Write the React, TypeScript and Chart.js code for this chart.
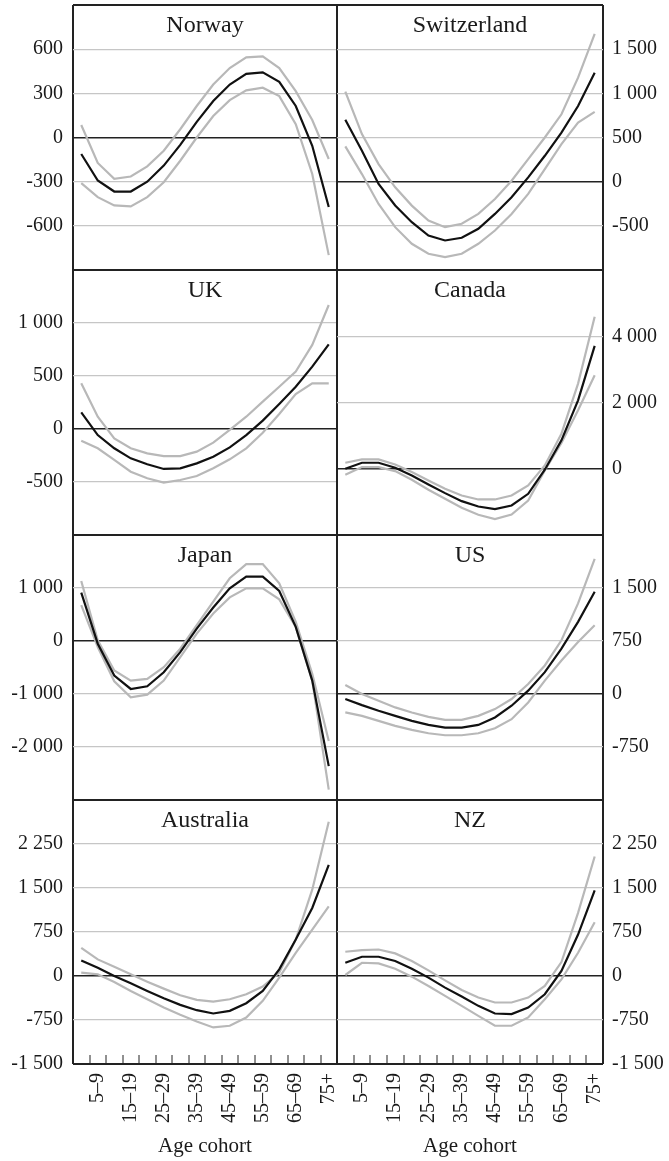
import React, { useEffect, useRef } from "react";
import { Chart, registerables } from "chart.js";

Chart.register(...registerables);

const categories = [
  "0–4", "5–9", "10–14", "15–19", "20–24", "25–29", "30–34", "35–39",
  "40–44", "45–49", "50–54", "55–59", "60–64", "65–69", "70–74", "75+",
];

const countries = ["Norway", "Switzerland", "UK", "Canada", "Japan", "US", "Australia", "NZ"];

const norwayMid = [-112, -292, -367, -367, -300, -191, -50, 106, 248, 360, 432, 443, 378, 214, -56, -472];
const norwayHigh = [85, -173, -281, -265, -196, -90, 56, 214, 360, 472, 544, 551, 472, 315, 119, -146];
const norwayLow = [-310, -405, -461, -468, -405, -304, -158, 0, 146, 254, 320, 338, 281, 90, -248, -799];

const swissMid = [700, 350, -26, -270, -459, -610, -666, -635, -534, -365, -177, 49, 293, 556, 857, 1233];
const swissHigh = [1019, 538, 199, -64, -271, -440, -515, -477, -365, -196, 11, 256, 500, 763, 1177, 1673];
const swissLow = [399, 86, -252, -515, -703, -816, -853, -816, -703, -553, -365, -139, 143, 425, 669, 790];

const ukMid = [157, -57, -182, -277, -333, -377, -371, -324, -261, -173, -57, 79, 236, 399, 588, 799];
const ukHigh = [431, 116, -88, -182, -230, -255, -255, -214, -129, -9, 116, 258, 399, 541, 793, 1170];
const ukLow = [-110, -182, -292, -403, -465, -506, -481, -443, -371, -286, -182, -35, 142, 330, 431, 431];

const canadaMid = [0, 181, 181, 30, -202, -474, -736, -978, -1139, -1220, -1109, -756, -30, 857, 2066, 3709];
const canadaHigh = [181, 282, 282, 131, -101, -353, -605, -806, -927, -927, -806, -504, 101, 1058, 2570, 4586];
const canadaLow = [-181, 50, 50, -71, -333, -635, -907, -1179, -1391, -1522, -1381, -958, -50, 776, 1764, 2822];

const japanMid = [912, -51, -652, -905, -855, -589, -209, 234, 633, 994, 1215, 1215, 943, 266, -747, -2361];
const japanHigh = [1133, 13, -557, -747, -715, -494, -146, 298, 741, 1184, 1450, 1450, 1089, 361, -620, -1886];
const japanLow = [677, -114, -760, -1063, -1013, -747, -304, 139, 519, 823, 994, 994, 785, 266, -747, -2804];

const usMid = [-71, -157, -237, -309, -380, -437, -475, -475, -437, -332, -166, 47, 309, 641, 1021, 1448];
const usHigh = [128, 0, -95, -190, -261, -323, -366, -366, -309, -214, -71, 142, 404, 760, 1282, 1913];
const usLow = [-261, -309, -380, -451, -508, -555, -584, -584, -555, -484, -356, -119, 190, 475, 736, 973];

const ausMid = [266, 141, 0, -124, -255, -379, -492, -583, -639, -594, -464, -255, 113, 622, 1159, 1895];
const ausHigh = [481, 283, 158, 28, -96, -215, -328, -407, -436, -396, -311, -181, 57, 622, 1471, 2630];
const ausLow = [57, 28, -102, -255, -396, -537, -662, -775, -877, -848, -707, -424, -28, 396, 792, 1188];

const nzMid = [226, 328, 328, 255, 124, -28, -198, -351, -509, -639, -650, -537, -311, 85, 707, 1459];
const nzHigh = [413, 441, 452, 385, 255, 96, -74, -238, -368, -452, -452, -368, -170, 238, 1075, 2036];
const nzLow = [17, 226, 215, 124, -11, -170, -339, -509, -679, -848, -848, -707, -396, -57, 396, 916];

const midSeries = [norwayMid, swissMid, ukMid, canadaMid, japanMid, usMid, ausMid, nzMid];
const highSeries = [norwayHigh, swissHigh, ukHigh, canadaHigh, japanHigh, usHigh, ausHigh, nzHigh];
const lowSeries = [norwayLow, swissLow, ukLow, canadaLow, japanLow, usLow, ausLow, nzLow];

const yMins = [-900, -1000, -1000, -2000, -3000, -1500, -1500, -1500];
const yMaxs = [900, 2000, 1500, 6000, 2000, 2250, 3000, 3000];
const ySteps = [300, 500, 500, 2000, 1000, 750, 750, 750];

const xTitle = "Age cohort";

const FONT = "'Liberation Serif', 'Times New Roman', Times, serif";
const BORDER = "#222";
const GRID = "#c6c6c6";
const BAND = "#b8b8b8";
const TEXT = "#1a1a1a";

const rowTops = [5, 270, 535, 800];
const chartBottom = 1064;

function fmt(v: number): string {
  const s = Math.abs(Math.round(v)).toString();
  const grouped = s.length > 3 ? s.slice(0, s.length - 3) + " " + s.slice(s.length - 3) : s;
  return (v < 0 ? "-" : "") + grouped;
}

const panelTitle = {
  id: "panelTitle",
  afterDraw(chart: any, _args: any, opts: any) {
    const { ctx, chartArea } = chart;
    ctx.save();
    ctx.font = `24px ${FONT}`;
    ctx.fillStyle = TEXT;
    ctx.textAlign = "center";
    ctx.textBaseline = "alphabetic";
    ctx.fillText(opts.text, (chartArea.left + chartArea.right) / 2, chartArea.top + 27);
    ctx.restore();
  },
};

function Panel({ idx }: { idx: number }) {
  const ref = useRef<HTMLCanvasElement | null>(null);
  const col = idx % 2;
  const row = Math.floor(idx / 2);
  const bottomRow = row === 3;
  const top = rowTops[row] - 1;
  const areaH = (row < 3 ? rowTops[row + 1] : chartBottom) - rowTops[row];
  const xAxisH = bottomRow ? 1161 - chartBottom : 0;
  const height = 1 + areaH + (bottomRow ? xAxisH : 1);
  const left = col === 0 ? 0 : 336;
  const width = col === 0 ? 338 : 333;

  useEffect(() => {
    if (!ref.current) return;
    const min = yMins[idx];
    const max = yMaxs[idx];
    const chart = new Chart(ref.current, {
      type: "line",
      data: {
        labels: categories,
        datasets: [
          { data: midSeries[idx], borderColor: "#111", borderWidth: 2.2 },
          { data: highSeries[idx], borderColor: BAND, borderWidth: 2.2 },
          { data: lowSeries[idx], borderColor: BAND, borderWidth: 2.2 },
        ],
      },
      plugins: [panelTitle],
      options: {
        responsive: false,
        animation: false,
        devicePixelRatio: 1,
        layout: {
          padding: {
            top: 1,
            bottom: bottomRow ? 0 : 1,
            left: col === 1 ? 1 : 0,
            right: col === 0 ? 1 : 0,
          },
        },
        elements: {
          point: { radius: 0, hoverRadius: 0 },
          line: { tension: 0, borderCapStyle: "butt", borderJoinStyle: "miter" },
        },
        plugins: {
          legend: { display: false },
          tooltip: { enabled: false },
          title: { display: false },
          panelTitle: { text: countries[idx] },
        },
        scales: {
          x: {
            type: "category",
            offset: true,
            display: true,
            border: { display: false },
            grid: {
              offset: true,
              drawOnChartArea: true,
              drawTicks: bottomRow,
              tickLength: -9,
              tickColor: "#222",
              tickWidth: 1,
              color: (c: any) =>
                c.type !== "tick" || c.index === 0 ? BORDER : "rgba(0,0,0,0)",
              lineWidth: (c: any) => (c.type !== "tick" || c.index === 0 ? 2 : 0),
            },
            ticks: {
              display: bottomRow,
              autoSkip: false,
              maxRotation: 90,
              minRotation: 90,
              padding: 18,
              color: TEXT,
              font: { family: FONT, size: 20 },
              callback: (_v: any, i: number) => (i % 2 === 1 ? categories[i] : ""),
            },
            title: {
              display: bottomRow,
              text: xTitle,
              color: TEXT,
              font: { family: FONT, size: 21 },
              padding: { top: 0, bottom: 2 },
            },
            afterFit: (s: any) => {
              s.height = xAxisH;
              s.paddingLeft = 0;
              s.paddingRight = 0;
              s.paddingTop = 0;
              s.paddingBottom = 0;
            },
          },
          y: {
            type: "linear",
            position: col === 0 ? "left" : "right",
            min,
            max,
            border: { display: false },
            grid: {
              drawTicks: false,
              color: (c: any) => {
                const v = c.tick ? c.tick.value : null;
                return v === 0 || v === min || v === max ? BORDER : GRID;
              },
              lineWidth: (c: any) => {
                const v = c.tick ? c.tick.value : null;
                if (v === min || v === max) return 2;
                if (v === 0) return 1.5;
                return 1.2;
              },
            },
            ticks: {
              stepSize: ySteps[idx],
              padding: col === 0 ? 10 : 9,
              color: TEXT,
              font: { family: FONT, size: 20 },
              callback: (v: any) => {
                const n = Number(v);
                if (n === max) return "";
                if (n === min && !bottomRow) return "";
                return fmt(n);
              },
            },
            afterFit: (s: any) => {
              s.width = col === 0 ? 73 : 66;
              s.paddingLeft = 0;
              s.paddingRight = 0;
              s.paddingTop = 0;
              s.paddingBottom = 0;
            },
          },
        },
      } as any,
    });
    return () => chart.destroy();
  }, [idx]);

  return (
    <canvas
      ref={ref}
      width={width}
      height={height}
      style={{ position: "absolute", left, top, width, height }}
    />
  );
}

export default function App() {
  return (
    <div style={{ position: "absolute", left: 0, top: 0, width: 669, height: 1161, background: "#fff" }}>
      {countries.map((_, i) => (
        <Panel key={i} idx={i} />
      ))}
    </div>
  );
}
